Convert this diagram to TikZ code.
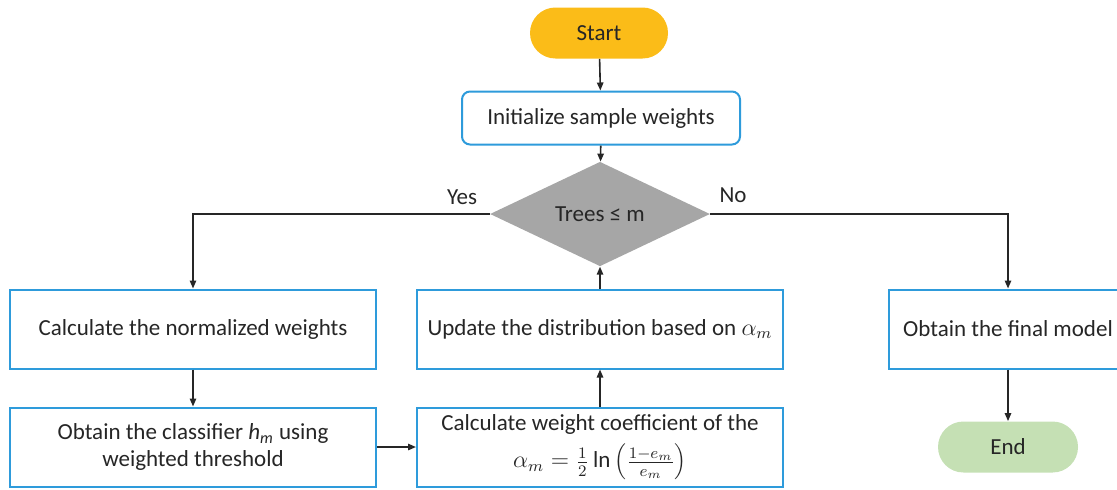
\documentclass[tikz,border=0pt]{standalone}
\usepackage{fontspec}
\setmainfont{Carlito}
\usetikzlibrary{shapes.geometric,arrows.meta}
\definecolor{boxblue}{HTML}{2E9BDB}
\definecolor{startfill}{HTML}{FBBC18}
\definecolor{endfill}{HTML}{C5E0B4}
\definecolor{decfill}{HTML}{A6A6A6}
\definecolor{txt}{HTML}{262626}
\tikzset{
  base/.style={font=\fontsize{11.5}{13.5}\selectfont, text=txt, align=center, inner sep=2pt},
  procbox/.style={base, draw=boxblue, line width=1pt, fill=white, minimum width=183pt, minimum height=39.5pt},
  terminal/.style={base, rounded corners=12.7pt, minimum height=25.5pt},
  decision/.style={base, diamond, fill=decfill, minimum width=110pt, minimum height=34pt, inner sep=0pt},
  flow/.style={draw=black!85, line width=0.8pt, -{Triangle[length=4pt,width=3.2pt]}}
}
\begin{document}
\begin{tikzpicture}[x=0.5pt,y=-0.5pt]
\useasboundingbox (0,0) rectangle (1117,489);
\node[terminal, fill=startfill, minimum width=69pt] (start) at (599,33) {Start};
\node[procbox, rounded corners=4pt, minimum width=139pt, minimum height=26.5pt] (init) at (601,118) {Initialize sample weights};
\node[decision] (dec) at (600,214) {Trees ≤ m};
\node[procbox] (norm) at (193,329) {Calculate the normalized weights};
\node[procbox] (clf) at (193,447) {Obtain the classifier {\itshape h\textsubscript{m}} using\\weighted threshold};
\node[procbox] (upd) at (600,329) {Update the distribution based on $\alpha_m$};
\node[procbox] (coef) at (600,447) {Calculate weight coefficient of the\\[4pt]$\alpha_m=\frac{1}{2}\ln\left(\frac{1-e_m}{e_m}\right)$};
\node[procbox, minimum width=119pt] (final) at (1008,329) {Obtain the final model};
\node[terminal, fill=endfill, minimum width=70pt] (end) at (1008,447) {End};
\node[base] (yes) at (462,197) {Yes};
\node[base] (no) at (733,195) {No};

\draw[flow] (start) -- (init);
\draw[flow] (init) -- (dec);
\draw[flow] (dec.west) -| (norm.north);
\draw[flow] (dec.east) -| (final.north);
\draw[flow] (norm) -- (clf);
\draw[flow] (clf) -- (coef);
\draw[flow] (coef) -- (upd);
\draw[flow] (upd) -- (dec);
\draw[flow] (final) -- (end);
\end{tikzpicture}
\end{document}
